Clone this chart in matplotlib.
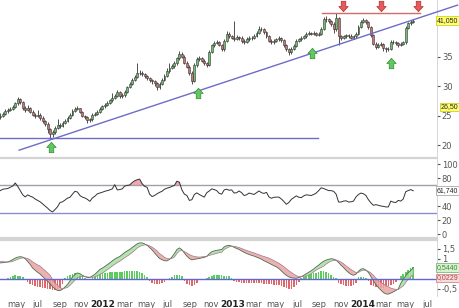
import numpy as np
import pandas as pd
import matplotlib
matplotlib.use("Agg")
import matplotlib.pyplot as plt
from matplotlib.transforms import blended_transform_factory

# weekly candles
dates = pd.date_range("2011-03-18", periods=167, freq="7D")
first_open = 24.8
closes = [25.0, 25.3, 25.8, 26.0, 26.2, 26.5, 27.1, 27.8, 27.3, 26.3,
          26.0, 26.3, 25.7, 25.2, 25.0, 25.2, 24.6, 24.1, 23.6, 22.8,
          21.9, 22.3, 22.9, 23.4, 23.3, 23.8, 24.1, 24.6, 25.1, 25.8,
          26.2, 26.3, 25.6, 25.0, 24.8, 24.3, 24.4, 25.1, 25.3, 25.6,
          26.2, 26.6, 26.9, 27.2, 27.6, 28.0, 28.3, 29.0, 28.3, 28.5,
          29.1, 29.9, 30.4, 31.1, 31.6, 32.2, 32.3, 32.0, 31.7, 31.4,
          31.0, 30.8, 30.5, 29.9, 30.4, 31.1, 31.8, 32.6, 33.1, 33.4,
          33.9, 34.7, 35.4, 35.0, 34.0, 33.3, 32.2, 30.9, 33.6, 34.6,
          34.8, 34.3, 33.9, 33.6, 35.8, 36.9, 37.3, 37.5, 37.0, 36.2,
          37.6, 38.9, 38.5, 38.2, 38.0, 38.3, 38.1, 37.6, 37.5, 38.0,
          38.2, 38.1, 38.5, 39.0, 39.6, 39.7, 39.1, 38.5, 37.7, 37.5,
          37.7, 37.9, 38.1, 37.8, 36.9, 36.2, 35.7, 36.3, 36.8, 37.6,
          37.9, 38.1, 38.4, 38.9, 39.0, 38.9, 39.0, 38.7, 38.8, 39.7,
          41.3, 41.4, 41.0, 40.5, 39.6, 41.5, 38.4, 38.2, 38.4, 38.6,
          38.5, 38.2, 38.4, 38.9, 40.0, 40.8, 41.1, 40.8, 40.0, 38.6,
          37.2, 36.7, 37.0, 37.1, 36.4, 36.2, 36.3, 37.5, 37.4, 37.3,
          37.0, 37.2, 37.4, 39.9, 40.6, 40.8, 41.05]
highs = [25.4, 25.6, 26.1, 26.4, 26.5, 26.9, 27.4, 28.1, 28.0, 27.5,
         26.6, 26.8, 26.5, 25.9, 25.5, 25.9, 25.4, 24.9, 24.3, 23.9,
         23.0, 22.6, 23.2, 24.5, 23.8, 24.2, 24.5, 24.9, 25.4, 26.1,
         26.5, 26.7, 26.4, 25.8, 25.2, 25.0, 24.7, 25.4, 25.6, 25.9,
         26.5, 26.9, 27.1, 27.5, 27.8, 28.9, 28.6, 29.4, 29.2, 28.8,
         29.4, 30.1, 30.7, 31.4, 31.9, 33.9, 32.7, 32.6, 32.2, 31.9,
         31.6, 31.3, 31.1, 30.7, 30.7, 31.4, 32.1, 33.0, 34.0, 33.7,
         34.2, 35.0, 35.9, 35.7, 35.2, 34.3, 33.6, 32.5, 33.9, 34.9,
         35.1, 35.0, 34.6, 34.1, 36.1, 37.2, 37.6, 37.8, 37.7, 37.2,
         37.9, 39.3, 39.1, 38.7, 41.0, 38.6, 38.5, 38.4, 37.9, 38.3,
         38.5, 38.5, 38.8, 39.3, 40.2, 40.0, 39.9, 39.3, 38.7, 37.9,
         38.0, 38.2, 38.4, 38.3, 38.0, 37.1, 36.5, 36.6, 37.1, 37.9,
         38.2, 38.4, 38.7, 39.2, 39.3, 39.2, 39.3, 39.2, 39.1, 40.0,
         41.7, 41.8, 41.6, 41.2, 40.8, 42.4, 41.7, 38.7, 38.7, 38.9,
         38.9, 38.8, 38.7, 39.2, 40.3, 41.1, 41.5, 41.3, 41.0, 40.2,
         38.8, 37.5, 37.3, 37.4, 37.3, 36.7, 36.6, 37.8, 37.8, 37.6,
         37.5, 37.5, 37.7, 40.2, 40.9, 41.1, 41.4]
lows = [24.5, 24.8, 25.1, 25.5, 25.8, 25.9, 26.3, 26.9, 27.0, 26.0,
        25.7, 25.8, 25.4, 24.9, 24.6, 24.8, 24.3, 23.8, 23.2, 22.1,
        21.2, 21.5, 22.0, 22.7, 23.0, 23.1, 23.6, 23.9, 24.4, 24.9,
        25.6, 25.9, 25.4, 24.8, 24.5, 23.8, 24.0, 24.2, 24.9, 25.1,
        25.4, 25.9, 26.4, 26.7, 27.0, 27.4, 27.8, 28.1, 28.0, 28.0,
        28.2, 28.8, 29.7, 30.2, 30.9, 31.4, 31.9, 31.7, 31.4, 31.1,
        30.7, 30.4, 30.1, 29.4, 29.6, 30.2, 30.8, 31.6, 32.3, 32.9,
        33.1, 33.6, 34.4, 34.7, 33.7, 33.0, 31.9, 30.4, 30.7, 33.3,
        34.3, 34.1, 33.6, 33.3, 33.4, 35.6, 36.7, 37.1, 36.8, 35.9,
        36.0, 37.4, 38.2, 37.9, 37.6, 37.8, 37.8, 37.3, 37.1, 37.3,
        37.7, 37.8, 37.9, 38.3, 38.8, 39.3, 38.8, 38.2, 37.4, 37.2,
        37.2, 37.4, 37.7, 37.5, 36.6, 35.9, 35.2, 35.5, 36.1, 36.6,
        37.4, 37.7, 37.9, 38.2, 38.7, 38.6, 38.6, 38.4, 38.5, 38.6,
        39.5, 40.9, 40.7, 40.2, 39.0, 39.4, 37.0, 37.8, 37.9, 38.2,
        38.2, 37.9, 37.9, 38.2, 38.7, 39.8, 40.6, 40.5, 39.7, 38.3,
        36.9, 36.3, 36.5, 36.8, 36.0, 35.8, 35.9, 36.1, 37.1, 36.9,
        36.6, 36.8, 37.0, 37.2, 39.7, 40.4, 40.6]

rsi = [62, 64, 64.5, 65, 66.8, 68.5, 72.9, 68, 62, 56,
       53, 56, 54, 52.7, 50, 48, 46, 43, 40, 37,
       33.5, 31.6, 35, 39, 45, 46, 48.5, 51.3, 52.5, 57,
       61, 60, 55, 52.7, 51.5, 49.5, 46.7, 51.5, 54, 57.4,
       58.5, 59.7, 61, 62, 63, 64.5, 70.5, 63, 63.5, 64.5,
       68.5, 69.5, 70, 73.5, 76, 77.5, 78.5, 72, 68, 66.8,
       57, 53.5, 55, 57.4, 59.5, 61, 64, 65.5, 66.5, 68,
       69.5, 75.5, 74, 63, 57, 55, 48, 49, 56.5, 58.8,
       56.5, 54.5, 52.7, 59, 61.5, 64.5, 63.5, 62, 58, 57,
       63, 64, 62.5, 63, 58.5, 59, 61.5, 59, 55, 56,
       58.5, 57.5, 56.5, 59, 61.5, 59, 58, 59.5, 53, 51,
       52.5, 52.7, 52.7, 50, 46.5, 42.5, 45, 49.5, 52, 54.5,
       52.5, 52, 54.5, 56, 55.5, 55, 56.5, 58.5, 62, 66,
       65, 63.5, 62, 62, 61, 57, 45.7, 45.7, 47, 47.5,
       45.7, 46, 47, 53, 56.5, 58.5, 57.5, 55, 49, 44.5,
       41, 42, 41, 40, 39.5, 38.7, 38.7, 47, 45.5, 45,
       48, 47, 50, 60.5, 62, 63.5, 61.74]

macd = [0.78, 0.79, 0.81, 0.83, 0.88, 0.95, 1.02, 1.07, 1.09, 1.07,
        0.99, 0.85, 0.70, 0.52, 0.41, 0.31, 0.22, 0.10, -0.02, -0.14,
        -0.26, -0.42, -0.52, -0.60, -0.60, -0.54, -0.42, -0.30, -0.12, 0.08,
        0.20, 0.28, 0.24, 0.16, 0.10, 0.05, 0.05, 0.13, 0.21, 0.33,
        0.45, 0.52, 0.60, 0.69, 0.78, 0.88, 0.97, 1.04, 1.10, 1.20,
        1.30, 1.38, 1.45, 1.55, 1.64, 1.73, 1.78, 1.78, 1.73, 1.66,
        1.55, 1.43, 1.28, 1.14, 1.00, 0.94, 0.89, 0.88, 0.95, 1.08,
        1.25, 1.45, 1.53, 1.44, 1.27, 1.12, 1.00, 0.93, 0.96, 0.98,
        1.00, 1.03, 1.06, 1.10, 1.24, 1.34, 1.38, 1.41, 1.43, 1.45,
        1.58, 1.64, 1.66, 1.62, 1.56, 1.50, 1.45, 1.38, 1.31, 1.25,
        1.20, 1.16, 1.12, 1.07, 1.02, 0.96, 0.89, 0.83, 0.77, 0.70,
        0.64, 0.58, 0.50, 0.38, 0.26, 0.16, 0.08, 0.04, 0.02, 0.01,
        0.04, 0.09, 0.16, 0.24, 0.31, 0.39, 0.48, 0.58, 0.67, 0.78,
        0.86, 0.92, 0.96, 0.99, 0.97, 0.92, 0.80, 0.66, 0.55, 0.41,
        0.30, 0.21, 0.16, 0.22, 0.36, 0.47, 0.49, 0.42, 0.30, 0.10,
        -0.12, -0.30, -0.45, -0.58, -0.70, -0.77, -0.78, -0.73, -0.67, -0.60,
        -0.52, -0.24, -0.04, 0.14, 0.29, 0.40, 0.544]
signal = [0.85, 0.84, 0.83, 0.82, 0.83, 0.86, 0.91, 0.96, 1.00, 1.03,
          1.03, 1.00, 0.93, 0.83, 0.75, 0.68, 0.62, 0.50, 0.40, 0.28,
          0.16, -0.06, -0.22, -0.33, -0.45, -0.52, -0.48, -0.45, -0.34, -0.22,
          -0.08, 0.04, 0.09, 0.10, 0.10, 0.08, 0.07, 0.06, 0.08, 0.14,
          0.20, 0.27, 0.35, 0.44, 0.53, 0.62, 0.71, 0.79, 0.86, 0.95,
          1.04, 1.12, 1.20, 1.30, 1.40, 1.52, 1.60, 1.65, 1.68, 1.68,
          1.63, 1.57, 1.48, 1.38, 1.25, 1.16, 1.06, 1.00, 0.98, 1.00,
          1.07, 1.25, 1.38, 1.40, 1.35, 1.28, 1.20, 1.14, 1.10, 1.08,
          1.07, 1.08, 1.10, 1.12, 1.15, 1.19, 1.22, 1.26, 1.29, 1.31,
          1.45, 1.52, 1.58, 1.62, 1.61, 1.58, 1.55, 1.50, 1.45, 1.40,
          1.36, 1.32, 1.28, 1.23, 1.19, 1.14, 1.10, 1.06, 1.02, 0.96,
          0.89, 0.83, 0.76, 0.68, 0.59, 0.49, 0.39, 0.30, 0.22, 0.14,
          0.10, 0.09, 0.10, 0.13, 0.17, 0.24, 0.33, 0.42, 0.49, 0.55,
          0.62, 0.72, 0.80, 0.87, 0.90, 0.91, 0.88, 0.82, 0.74, 0.63,
          0.54, 0.45, 0.37, 0.30, 0.30, 0.38, 0.42, 0.40, 0.36, 0.28,
          0.16, 0.02, -0.10, -0.19, -0.28, -0.35, -0.41, -0.48, -0.52, -0.54,
          -0.55, -0.46, -0.37, -0.20, -0.04, 0.08, 0.18]
hist = [-0.05, -0.04, -0.02, 0.02, 0.08, 0.14, 0.16, 0.15, 0.12, 0.06,
        -0.06, -0.18, -0.26, -0.34, -0.38, -0.41, -0.44, -0.46, -0.49, -0.51,
        -0.53, -0.55, -0.56, -0.54, -0.45, -0.28, 0.05, 0.12, 0.2, 0.25,
        0.28, 0.28, 0.22, 0.12, 0.04, -0.04, -0.02, 0.08, 0.14, 0.2,
        0.24, 0.26, 0.28, 0.3, 0.32, 0.33, 0.33, 0.34, 0.34, 0.35,
        0.36, 0.37, 0.38, 0.38, 0.38, 0.36, 0.32, 0.26, 0.16, 0.06,
        -0.12, -0.2, -0.26, -0.28, -0.28, -0.24, -0.16, -0.08, 0.05, 0.1,
        0.16, 0.2, 0.2, 0.12, -0.1, -0.25, -0.34, -0.37, -0.3, -0.2,
        -0.08, -0.05, -0.03, 0.02, 0.1, 0.15, 0.18, 0.18, 0.17, 0.16,
        0.15, 0.14, 0.11, 0.02, -0.1, -0.16, -0.18, -0.2, -0.2, -0.21,
        -0.22, -0.22, -0.22, -0.22, -0.23, -0.24, -0.25, -0.26, -0.28, -0.29,
        -0.3, -0.31, -0.33, -0.38, -0.44, -0.49, -0.52, -0.5, -0.42, -0.3,
        -0.15, 0.03, 0.1, 0.15, 0.2, 0.24, 0.27, 0.3, 0.33, 0.36,
        0.37, 0.34, 0.28, 0.2, 0.1, 0.03, -0.2, -0.28, -0.32, -0.36,
        -0.38, -0.38, -0.34, -0.2, 0.06, 0.1, 0.08, 0.04, -0.12, -0.3,
        -0.36, -0.4, -0.44, -0.47, -0.46, -0.42, -0.38, -0.32, -0.26, -0.18,
        -0.06, 0.12, 0.22, 0.35, 0.45, 0.52, 0.58]

# marks drawn on the price panel
up_arrow_dates = ["2011-08-08", "2012-09-24", "2013-08-11", "2014-03-22"]
up_arrow_prices = [19.7, 28.85, 35.6, 33.9]
down_arrow_dates = ["2013-11-07", "2014-02-22", "2014-06-06"]
down_arrow_prices = [43.5, 43.5, 43.5]
trend_dates = ["2011-05-10", "2014-09-25"]
trend_prices = [19.2, 43.7]
support_dates = ["2011-03-17", "2013-08-28"]
support_price = 21.25
resist_dates = ["2013-09-09", "2014-06-12"]
resist_price = 42.4

tick_dates = ["2011-05-01", "2011-07-01", "2011-09-01", "2011-11-01", "2012-01-01",
              "2012-03-01", "2012-05-01", "2012-07-01", "2012-09-01", "2012-11-01",
              "2013-01-01", "2013-03-01", "2013-05-01", "2013-07-01", "2013-09-01",
              "2013-11-01", "2014-01-01", "2014-03-01", "2014-05-01", "2014-07-01"]
tick_labels = ["may", "jul", "sep", "nov", "2012", "mar", "may", "jul", "sep", "nov",
               "2013", "mar", "may", "jul", "sep", "nov", "2014", "mar", "may", "jul"]

c = np.array(closes)
o = np.array([first_open] + closes[:-1])
rsi = np.array(rsi)
macd = np.array(macd)
signal = np.array(signal)
hist = np.array(hist)

fig = plt.figure(figsize=(4.6, 3.08), dpi=100)
W = 437 / 460
ax1 = fig.add_axes([0, 1 - 156 / 308, W, 156 / 308])
ax2 = fig.add_axes([0, 1 - 238 / 308, W, 80 / 308])
ax3 = fig.add_axes([0, 1 - 296 / 308, W, 56 / 308])

xmin, xmax = pd.Timestamp("2011-03-17"), pd.Timestamp("2014-07-29")
for ax in (ax1, ax2, ax3):
    ax.set_xlim(xmin, xmax)
    ax.yaxis.tick_right()
    ax.tick_params(axis="y", labelsize=6, colors="#555555", length=2, pad=1.5)
    ax.tick_params(axis="x", length=0)
    ax.spines["left"].set_visible(False)
    ax.spines["right"].set_color("#d0d0d0")
    ax.spines["right"].set_linewidth(0.6)
    for s in ("top", "bottom"):
        ax.spines[s].set_color("#d4d4d4")
        ax.spines[s].set_linewidth(1.6)
ax1.spines["top"].set_visible(False)
ax1.spines["bottom"].set_visible(False)
ax3.spines["bottom"].set_visible(False)
ax1.set_xticks([])
ax2.set_xticks([])

# price panel
ax1.set_ylim(18.21, 44.56)
ax1.set_yticks([20, 25, 30, 35])
up = c >= o
body_col = np.where(up, "#6ebf6e", "#c97676")
ax1.vlines(dates, lows, highs, color="#333333", lw=0.6, zorder=2)
ax1.bar(dates, np.maximum(np.abs(c - o), 0.08), bottom=np.minimum(o, c), width=5.4,
        color=body_col, edgecolor="#333333", linewidth=0.4, zorder=3)

ax1.plot(pd.to_datetime(trend_dates), trend_prices, color="#6c6cc8", lw=1, clip_on=False, zorder=4)
ax1.plot(pd.to_datetime(support_dates), [support_price] * 2, color="#6c6cc8", lw=1, zorder=4)
ax1.plot(pd.to_datetime(resist_dates), [resist_price] * 2, color="#d46a6a", lw=1, zorder=4)

up_verts = [(-0.22, -0.5), (0.22, -0.5), (0.22, 0.0), (0.45, 0.0), (0.0, 0.5), (-0.45, 0.0), (-0.22, 0.0), (-0.22, -0.5)]
down_verts = [(x, -y) for x, y in up_verts]
ax1.plot(pd.to_datetime(up_arrow_dates), up_arrow_prices, ls="none", marker=up_verts, ms=7.5,
         mfc="#62c662", mec="#2f8f2f", mew=0.5, zorder=5)
ax1.plot(pd.to_datetime(down_arrow_dates), down_arrow_prices, ls="none", marker=down_verts, ms=7.5,
         mfc="#e65a5a", mec="#b03030", mew=0.5, zorder=5)


def tag(ax, y, s, fc, ec, color="#222222"):
    tr = blended_transform_factory(fig.transFigure, ax.transData)
    ax.text(0.996, y, s, transform=tr, fontsize=5, family="Liberation Sans", va="center", ha="right",
            color=color, clip_on=False, zorder=10,
            bbox=dict(boxstyle="square,pad=0.12", fc=fc, ec=ec, lw=0.5))


tag(ax1, 41.05, "41,050", "#ffff70", "#c8c800")
tag(ax1, 26.5, "26,50", "#ffff70", "#c8c800")

# RSI panel
ax2.set_ylim(-5.7, 108.6)
ax2.set_yticks([0, 20, 40, 80, 100])
ax2.axhline(70, color="#a0a0aa", lw=1)
ax2.axhline(30, color="#8c8cd2", lw=1)
ax2.fill_between(dates, 70, rsi, where=rsi > 70, interpolate=True, color="#f2a6b2", lw=0)
ax2.plot(dates, rsi, color="#333333", lw=0.7)
tag(ax2, 61.74, "61,740", "white", "#999999")

# MACD panel
ax3.set_ylim(-0.875, 1.925)
ax3.set_yticks([-0.5, 1, 1.5])
ax3.set_yticklabels(["-0,5", "1", "1,5"])
hist_col = np.where(hist >= 0, "#5ccc5c", "#e26666")
ax3.bar(dates, hist, width=4.4, color=hist_col, lw=0, zorder=2)
ax3.fill_between(dates, macd, signal, where=macd >= signal, interpolate=True, color="#a6dea0", lw=0, zorder=3, alpha=0.85)
ax3.fill_between(dates, macd, signal, where=macd < signal, interpolate=True, color="#eba4a4", lw=0, zorder=3, alpha=0.85)
ax3.plot(dates, macd, color="#4f6a4f", lw=0.6, zorder=4)
ax3.plot(dates, signal, color="#a07888", lw=0.5, zorder=4)
ax3.axhline(0, color="#6464d8", lw=1, zorder=5)
tag(ax3, 0.544, "0,5440", "#d8f2d0", "#66aa66", color="#3a8a3a")
tag(ax3, 0.0229, "0,0229", "#f8dcdc", "#cc7777", color="#aa4444")

ax3.set_xticks(pd.to_datetime(tick_dates))
ax3.set_xticklabels(tick_labels)
ax3.tick_params(axis="x", labelsize=6, colors="#555555", pad=3)
for lab in ax3.get_xticklabels():
    if lab.get_text().isdigit():
        lab.set_fontweight("bold")
        lab.set_color("#222222")
        lab.set_fontsize(6.5)

fig.savefig("out.png", dpi=100)
